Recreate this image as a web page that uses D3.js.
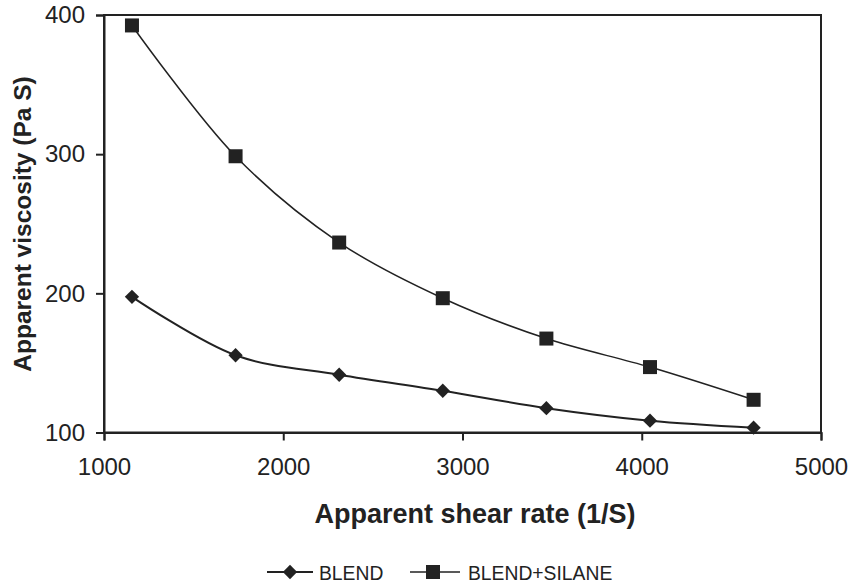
<!DOCTYPE html>
<html><head><meta charset="utf-8">
<script src="https://cdn.jsdelivr.net/npm/d3@7"></script>
<style>body{margin:0;background:#fff}svg{display:block}text{font-family:"Liberation Sans",Arial,sans-serif;fill:#222}</style>
</head><body><div id="c"></div>
<script>
const shearRate = [1156, 1734, 2312, 2890, 3468, 4046, 4624];
const blend = [197.5, 155.5, 141.5, 130, 117.5, 108.5, 103.5];
const blendSilane = [392.5, 298.5, 236.5, 196.5, 167.5, 147, 123.5];
const xTicks = [1000, 2000, 3000, 4000, 5000];
const yTicks = [100, 200, 300, 400];
const seriesNames = ["BLEND", "BLEND+SILANE"];

const W = 854, H = 588;
const m = {l: 104, r: 33, t: 15, b: 155.5};
const svg = d3.select("#c").append("svg").attr("width", W).attr("height", H);
const x = d3.scaleLinear().domain([1000, 5000]).range([m.l, W - m.r]);
const y = d3.scaleLinear().domain([100, 400]).range([H - m.b, m.t]);

// frame
svg.append("rect").attr("x", x(1000)).attr("y", y(400)).attr("width", x(5000) - x(1000)).attr("height", y(100) - y(400))
  .attr("fill", "none").attr("stroke", "#222").attr("stroke-width", 2);

const xa = svg.append("g").attr("transform", `translate(0,${y(100)})`)
  .call(d3.axisBottom(x).tickValues(xTicks).tickSize(8).tickPadding(17).tickFormat(d3.format("d")));
const ya = svg.append("g").attr("transform", `translate(${x(1000)},0)`)
  .call(d3.axisLeft(y).tickValues(yTicks).tickSize(8).tickPadding(11).tickFormat(d3.format("d")));
[xa, ya].forEach(a => {
  a.select(".domain").attr("stroke", "#222").attr("stroke-width", 2);
  a.selectAll(".tick line").attr("stroke", "#222").attr("stroke-width", 2);
  a.selectAll(".tick text").attr("font-size", 24).attr("fill", "#222").style("font-family", "Liberation Sans, Arial, sans-serif");
});

svg.append("text").attr("x", 475).attr("y", 523).attr("text-anchor", "middle")
  .attr("font-size", 27).attr("font-weight", "bold").text("Apparent shear rate (1/S)");
svg.append("text").attr("transform", `translate(31,224) rotate(-90)`).attr("text-anchor", "middle")
  .attr("font-size", 24.5).attr("font-weight", "bold").text("Apparent viscosity (Pa S)");

const line = d3.line().x(d => x(d[0])).y(d => y(d[1])).curve(d3.curveCatmullRom.alpha(0.5));
const data = [blend, blendSilane].map(s => s.map((v, i) => [shearRate[i], v]));

data.forEach((s, k) => {
  svg.append("path").datum(s).attr("d", line).attr("fill", "none").attr("stroke", "#222").attr("stroke-width", k === 0 ? 2 : 1.5);
});
// markers
svg.append("g").selectAll("path").data(data[0]).join("path")
  .attr("d", d3.symbol(d3.symbolDiamond2, 130)).attr("transform", d => `translate(${x(d[0])},${y(d[1])})`).attr("fill", "#222");
svg.append("g").selectAll("rect").data(data[1]).join("rect")
  .attr("x", d => x(d[0]) - 7).attr("y", d => y(d[1]) - 7).attr("width", 14).attr("height", 14).attr("fill", "#222");

// legend
const lg = svg.append("g").attr("transform", "translate(0,572)");
lg.append("line").attr("x1", 267).attr("x2", 313).attr("y1", 0).attr("y2", 0).attr("stroke", "#222").attr("stroke-width", 2);
lg.append("path").attr("d", d3.symbol(d3.symbolDiamond2, 130)).attr("transform", "translate(290,0)").attr("fill", "#222");
lg.append("text").attr("transform", "translate(319,7.6) scale(0.92,1)").attr("font-size", 21).text(seriesNames[0]);
lg.append("line").attr("x1", 410).attr("x2", 460).attr("y1", 0).attr("y2", 0).attr("stroke", "#222").attr("stroke-width", 1.5);
lg.append("rect").attr("x", 426).attr("y", -7).attr("width", 14).attr("height", 14).attr("fill", "#222");
lg.append("text").attr("transform", "translate(468,7.6) scale(0.92,1)").attr("font-size", 21).text(seriesNames[1]);
</script></body></html>
